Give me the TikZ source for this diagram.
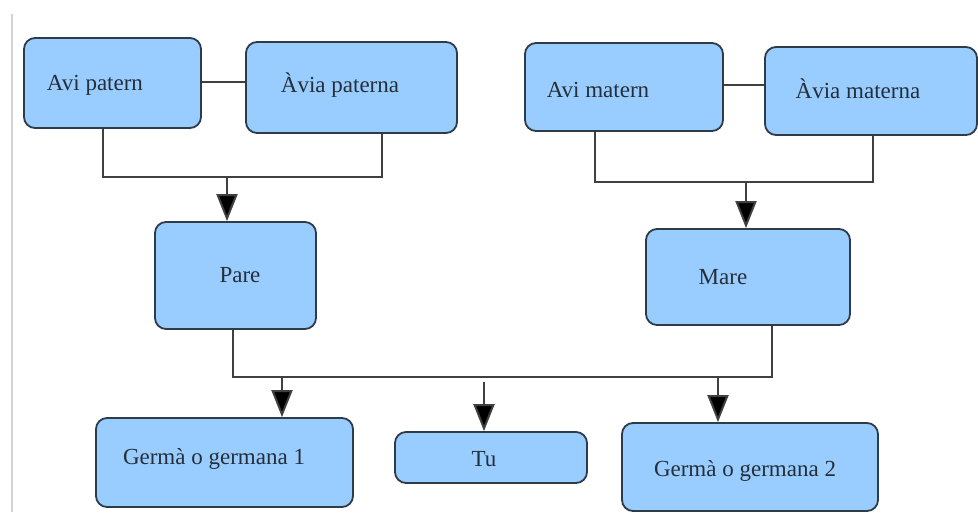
\documentclass[tikz,border=0pt]{standalone}
\usepackage{fontspec}
\newfontfamily\lserif{Liberation Serif}
\usetikzlibrary{arrows.meta}
\definecolor{boxfill}{HTML}{99CCFF}
\definecolor{boxdraw}{HTML}{2E3B48}
\definecolor{linec}{HTML}{404040}
\begin{document}
\begin{tikzpicture}[x=1pt,y=-1pt,
  box/.style={draw=boxdraw,fill=boxfill,line width=1.8pt,rounded corners=11pt,inner sep=0pt},
  lbl/.style={inner sep=0pt,text=boxdraw!80!black,font=\lserif\fontsize{23}{27}\selectfont},
  conn/.style={draw=linec,line width=2pt},
  arr/.style={conn,-{Triangle[width=21pt,length=27pt,fill=black]}}]
\useasboundingbox[fill=white] (0,0) rectangle (978,512);
\draw[gray!35,line width=1.5pt] (12,14) -- (12,512);
% boxes
\node[box,minimum width=177pt,minimum height=90pt] (avip) at (112.5,83) {};
\node[box,minimum width=211pt,minimum height=91pt] (aviap) at (351.5,87.5) {};
\node[box,minimum width=198pt,minimum height=88pt] (avim) at (624,87) {};
\node[box,minimum width=212pt,minimum height=88pt] (aviam) at (871,91) {};
\node[box,minimum width=161pt,minimum height=107pt] (pare) at (235.5,275.5) {};
\node[box,minimum width=204pt,minimum height=96pt] (mare) at (748,277) {};
\node[box,minimum width=257pt,minimum height=89pt] (g1) at (224.5,462.5) {};
\node[box,minimum width=192pt,minimum height=51pt] (tu) at (491,457.5) {};
\node[box,minimum width=256pt,minimum height=88pt] (g2) at (750,467) {};
% labels
\node[lbl] (tavip) at (95,85) {Avi patern};
\node[lbl] (taviap) at (340,85) {Àvia paterna};
\node[lbl] (tavim) at (598,90) {Avi matern};
\node[lbl] (taviam) at (858,89) {Àvia materna};
\node[lbl] (tpare) at (240,275) {Pare};
\node[lbl] (tmare) at (723,277) {Mare};
\node[lbl] (tg1) at (214,459) {Germà o germana 1};
\node[lbl] (ttu) at (484,459) {Tu};
\node[lbl] (tg2) at (745,471) {Germà o germana 2};
% couple links
\draw[conn] (avip.east |- 0,82) -- (aviap.west |- 0,82);
\draw[conn] (avim.east |- 0,85) -- (aviam.west |- 0,85);
% paternal
\coordinate (pl) at (103,177);
\coordinate (pr) at (382,177);
\coordinate (pm) at (227,177);
\draw[conn] (avip.south -| pl) -- (pl) -- (pr) -- (aviap.south -| pr);
\draw[arr] (pm) -- (pare.north -| pm);
% maternal
\coordinate (ml) at (595,182);
\coordinate (mr) at (873,182);
\coordinate (mm) at (746,182);
\draw[conn] (avim.south -| ml) -- (ml) -- (mr) -- (aviam.south -| mr);
\draw[arr] (mm) -- (mare.north -| mm);
% children
\coordinate (cl) at (233,377);
\coordinate (cr) at (772,377);
\coordinate (c1) at (282,377);
\coordinate (c2) at (484,382);
\coordinate (c3) at (718,377);
\draw[conn] (pare.south -| cl) -- (cl) -- (cr) -- (mare.south -| cr);
\draw[arr] (c1) -- (g1.north -| c1);
\draw[arr] (c2) -- (tu.north -| c2);
\draw[arr] (c3) -- (g2.north -| c3);
\end{tikzpicture}
\end{document}
